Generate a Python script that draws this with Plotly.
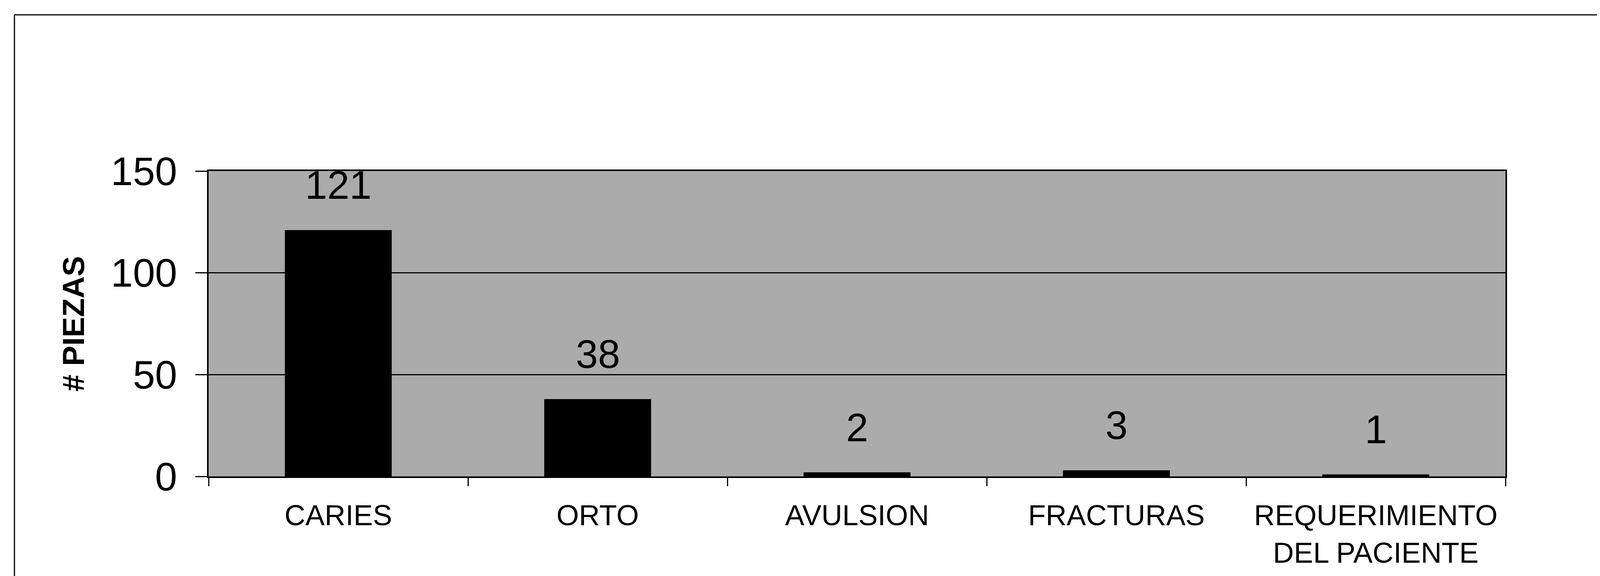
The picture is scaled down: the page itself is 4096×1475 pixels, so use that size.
import plotly.graph_objects as go

categories = ["CARIES", "ORTO", "AVULSION", "FRACTURAS", "REQUERIMIENTO<br>DEL PACIENTE"]
values = [121, 38, 2, 3, 1]
y_ticks = [0, 50, 100, 150]
y_title = "# PIEZAS"

FONT = "Liberation Sans, Arial, Helvetica, sans-serif"

fig = go.Figure()
fig.add_trace(go.Bar(
    x=categories, y=values,
    marker=dict(color="black", line=dict(width=0)),
    width=0.412,
    hoverinfo="skip",
))

for c, v in zip(categories, values):
    fig.add_annotation(
        x=c, y=v, xref="x", yref="y", text=str(v),
        showarrow=False, yanchor="bottom", yshift=56,
        font=dict(family=FONT, size=102, color="black"),
    )

# outer frame (top and left edges of the scanned chart border)
fig.add_shape(type="line", xref="paper", yref="paper",
              x0=(29 - 526) / 3320, x1=1.2, y0=(1212 - 30) / 782, y1=(1212 - 30) / 782,
              line=dict(color="black", width=3))
fig.add_shape(type="line", xref="paper", yref="paper",
              x0=(29 - 526) / 3320, x1=(29 - 526) / 3320, y0=(1212 - 30) / 782, y1=-0.5,
              line=dict(color="black", width=3))

fig.update_layout(
    width=4096, height=1475,
    margin=dict(l=526, r=250, t=430, b=263),
    paper_bgcolor="white",
    plot_bgcolor="#ababab",
    showlegend=False,
    font=dict(family=FONT, color="black"),
)
fig.update_xaxes(
    type="category",
    tickson="boundaries",
    ticks="outside", ticklen=21, tickwidth=3, tickcolor="black",
    showgrid=False,
    showline=True, linecolor="black", linewidth=4, mirror=True,
    tickfont=dict(family=FONT, size=74, color="black"),
    ticklabelstandoff=32,
)
fig.update_yaxes(
    range=[0, 150], tickvals=y_ticks,
    ticks="outside", ticklen=30, tickwidth=3, tickcolor="black",
    showgrid=True, gridcolor="black", gridwidth=3,
    zeroline=False,
    showline=True, linecolor="black", linewidth=4, mirror=True,
    tickfont=dict(family=FONT, size=102, color="black"),
    ticklabelstandoff=26,
    title=dict(text=y_title, standoff=43,
               font=dict(family=FONT, size=78, color="black", weight="bold")),
)

fig.write_html("out.html")
